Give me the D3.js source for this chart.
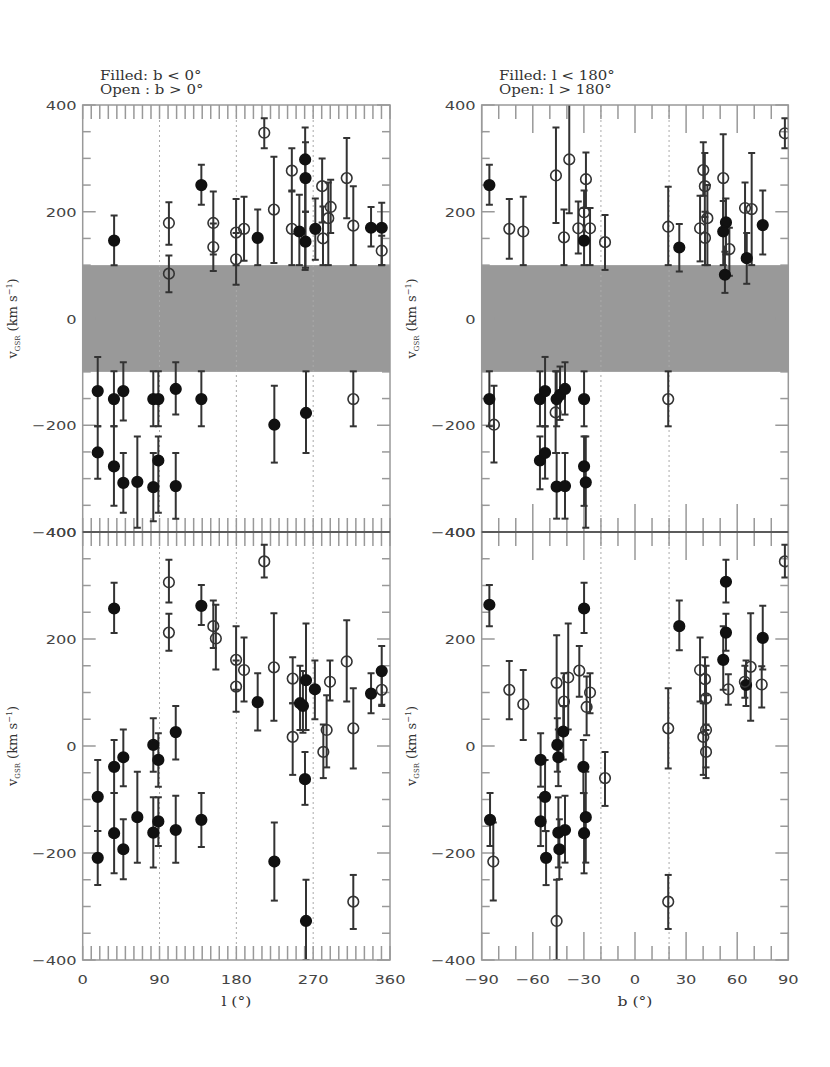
<!DOCTYPE html>
<html>
<head>
<meta charset="utf-8">
<script src="https://cdn.jsdelivr.net/npm/d3@7"></script>
<style>
  body { margin: 0; background: #fff; }
  svg { display: block; }
</style>
</head>
<body>
<svg id="chart" width="830" height="1067"></svg>
<script>
"use strict";
// rows: [position, v, errLow, errHigh, filled]
const topLeft = [
  [36.8,146,100,193,1],[101,179,138,218,0],[101,84,49,118,0],[139,250,213,288,1],
  [153,179,120,238,0],[153,134,89,178,0],[179.7,161,100,224,0],[179.7,111,63,160,0],
  [189,168,108,228,0],[205,151,100,204,1],[212.7,348,319,375,0],[224,204,104,303,0],
  [245,277,238,319,0],[245,168,100,240,0],[253.8,163,100,232,1],[260.6,298,91,358,1],
  [261,263,200,330,1],[261,144,95,200,1],[272.5,168,110,225,1],[280.5,248,180,300,0],
  [281.5,150,100,210,0],[287.7,188,100,255,0],[290.5,209,160,260,0],[309.3,263,188,338,0],
  [317,174,100,248,0],[337.8,170,135,209,1],[350.3,170,100,217,1],[350.3,127,100,155,0],
  [17.6,-136,-202,-72,1],[17.6,-251,-300,-202,1],[36.6,-151,-202,-99,1],[36.6,-277,-351,-202,1],
  [47.6,-136,-191,-82,1],[47.6,-308,-364,-252,1],[64,-306,-392,-221,1],[82.7,-151,-202,-99,1],
  [88.6,-151,-202,-99,1],[82.7,-316,-380,-252,1],[88.6,-266,-364,-221,1],[109,-132,-180,-82,1],
  [109,-314,-375,-252,1],[139,-151,-202,-99,1],[224.5,-199,-270,-126,1],[261.6,-177,-252,-99,1],
  [317,-151,-202,-99,0]
];
const bottomLeft = [
  [36.8,257,211,305,1],[101,306,268,348,0],[101,212,178,247,0],[139,262,226,301,1],
  [153,224,183,272,0],[156,201,143,264,0],[179.7,161,105,224,0],[179.7,111,64,160,0],
  [189,142,83,203,0],[205,82,29,136,1],[212.7,345,315,376,0],[224,147,47,248,0],
  [246,126,80,166,0],[246,17,-54,80,0],[254.6,80,30,150,1],[258,75,25,140,1],
  [261.6,123,30,229,1],[272,106,50,160,1],[289.7,120,85,160,0],[285.8,30,-40,95,0],
  [281.9,-11,-60,40,0],[260.4,-62,-110,-11,1],[309.3,158,83,235,0],[317,33,-42,108,0],
  [337.8,98,61,136,1],[350.3,140,77,187,1],[350.3,105,75,135,0],
  [36.8,-39,-88,11,1],[36.8,-163,-238,-88,1],[17.6,-95,-159,-26,1],[17.6,-209,-260,-159,1],
  [47.6,-193,-249,-137,1],[47.6,-21,-75,31,1],[64,-133,-218,-48,1],[82.7,-162,-227,-96,1],
  [88.6,-141,-187,-96,1],[82.7,2,-48,52,1],[88.6,-26,-76,24,1],[109,26,-25,75,1],
  [109,-157,-218,-93,1],[139,-138,-189,-88,1],[224.5,-216,-289,-143,1],[261.6,-327,-400,-250,1],
  [317,-291,-342,-241,0]
];
const topRight = [
  [-85.5,250,213,288,1],[-73.8,168,112,224,0],[-65.6,163,100,228,0],[-46.4,268,179,358,0],
  [-38.6,298,197,420,0],[-41.7,152,100,204,0],[-28.8,261,207,311,0],[-33.3,169,122,219,0],
  [-29.9,146,100,207,1],[-29.9,199,150,240,0],[-26.4,169,100,207,0],[-17.6,143,91,194,0],
  [19.5,172,100,247,0],[26,133,88,177,1],[40.1,278,230,330,0],[41,248,190,310,0],
  [42.5,188,100,250,0],[38.2,169,107,230,0],[41.1,151,100,200,0],[51.8,263,160,345,0],
  [53.4,180,120,225,1],[51.8,163,100,220,1],[55.4,130,80,170,0],[52.8,82,48,125,1],
  [64.6,207,110,255,0],[68.5,205,100,310,0],[65.6,113,65,160,1],[75,175,120,240,1],
  [88,347,319,375,0],
  [-85.5,-151,-202,-99,1],[-82.8,-199,-270,-126,0],[-55.8,-151,-202,-99,1],[-52.8,-136,-202,-72,1],
  [-55.8,-266,-320,-221,1],[-52.8,-252,-300,-202,1],[-46,-151,-202,-99,1],[-46.6,-176,-252,-99,0],
  [-44,-143,-190,-90,1],[-41.1,-132,-180,-82,1],[-46,-315,-375,-252,1],[-41.1,-314,-375,-252,1],
  [-29.9,-151,-202,-99,1],[-29.9,-277,-351,-221,1],[-28.9,-307,-392,-221,1],[19.5,-151,-202,-99,0]
];
const bottomRight = [
  [-85.5,264,224,301,1],[-73.8,105,50,159,0],[-65.6,78,11,142,0],[-46,118,10,207,0],
  [-39.2,128,31,229,0],[-41.7,83,20,136,0],[-32.7,141,92,187,0],[-29.9,257,211,305,1],
  [-28.4,73,20,130,0],[-26.4,100,61,136,0],[-45.6,2,-48,52,1],[-42.1,27,-25,75,1],
  [-45,-21,-75,31,1],[-55.4,-26,-76,24,1],[-30.3,-39,-88,11,1],[-17.6,-60,-112,-11,0],
  [19.5,33,-42,108,0],[26,224,179,272,1],[38.2,142,83,203,0],[41.1,125,80,166,0],
  [41.7,89,30,150,0],[41.7,30,-40,95,0],[40.1,17,-54,80,0],[41.7,-11,-60,40,0],
  [53.4,307,268,348,1],[53.4,212,178,247,1],[51.8,161,105,224,1],[54.8,106,77,134,0],
  [65.2,114,75,160,1],[64.5,120,90,150,0],[67.9,148,47,248,0],[75,202,143,262,1],
  [74.4,115,72,149,0],[88,345,315,376,0],
  [-85.1,-138,-187,-88,1],[-83.2,-216,-289,-143,0],[-55.4,-141,-187,-96,1],[-52.8,-95,-159,-26,1],
  [-52.2,-209,-260,-159,1],[-45,-162,-227,-96,1],[-44.4,-193,-249,-137,1],[-41.1,-157,-218,-93,1],
  [-46,-327,-400,-250,0],[-29.9,-163,-238,-88,1],[-28.9,-133,-218,-48,1],[19.5,-291,-342,-241,0]
];
const lTicks = [0, 90, 180, 270, 360];
const bTicks = [-90, -60, -30, 0, 30, 60, 90];
const vTicks = [-400, -200, 0, 200, 400];
const lGuides = [90, 180, 270];
const bGuides = [-20, 20];
const bandRange = [-100, 100];
const titlesLeft = ["Filled: b < 0°", "Open : b > 0°"];
const titlesRight = ["Filled: l < 180°", "Open: l > 180°"];

const svg = d3.select('#chart');
const FONT = 'DejaVu Sans, sans-serif';
const SERIF = 'DejaVu Serif, serif';

const xL = d3.scaleLinear().domain([0, 360]).range([82.7, 390]);
const xR = d3.scaleLinear().domain([-90, 90]).range([481.7, 788.3]);
const yT = d3.scaleLinear().domain([-400, 400]).range([532, 105]);
const yB = d3.scaleLinear().domain([-400, 400]).range([960, 532]);

// stretched text, like the wide plotter font of the original
function label(x, y, str, anchor, size, color, stretch, family) {
  const g = svg.append('g').attr('transform', `translate(${x},${y}) scale(${stretch || 1.3},1)`);
  return g.append('text')
    .attr('text-anchor', anchor)
    .attr('font-family', family || FONT)
    .attr('font-size', size)
    .attr('fill', color)
    .text(str);
}

function panel(id, x, y, data, xStep, xMajor, guides, band, showX, xLabels) {
  const [x0, x1] = x.range();
  const [y0, y1] = y.range(); // y0 bottom, y1 top
  const g = svg.append('g');
  svg.append('clipPath').attr('id', id)
    .append('rect').attr('x', x0).attr('y', y1).attr('width', x1 - x0).attr('height', y0 - y1);

  if (band) {
    g.append('rect')
      .attr('x', x0).attr('width', x1 - x0)
      .attr('y', y(bandRange[1])).attr('height', y(bandRange[0]) - y(bandRange[1]))
      .attr('fill', '#999');
  }
  g.selectAll('line.guide').data(guides).enter().append('line')
    .attr('x1', d => x(d)).attr('x2', d => x(d))
    .attr('y1', y1).attr('y2', y0)
    .attr('stroke', '#aaa').attr('stroke-width', 1).attr('stroke-dasharray', '2,3');

  // x ticks top & bottom
  const xt = d3.range(x.domain()[0], x.domain()[1] + 0.01, xStep);
  const tlen = d => (xMajor && d % xMajor === 0 ? 28 : 14);
  g.selectAll('line.xtb').data(xt).enter().append('line')
    .attr('x1', d => x(d)).attr('x2', d => x(d))
    .attr('y1', y0).attr('y2', d => y0 - tlen(d))
    .attr('stroke', '#999').attr('stroke-width', 1.5);
  g.selectAll('line.xtt').data(xt).enter().append('line')
    .attr('x1', d => x(d)).attr('x2', d => x(d))
    .attr('y1', y1).attr('y2', d => y1 + tlen(d))
    .attr('stroke', '#999').attr('stroke-width', 1.5);

  // y ticks left & right
  const yt = d3.range(-400, 401, 50);
  const ylen = d => (d % 200 === 0 ? 13 : 8);
  g.selectAll('line.ytl').data(yt).enter().append('line')
    .attr('x1', x0).attr('x2', d => x0 + ylen(d))
    .attr('y1', d => y(d)).attr('y2', d => y(d))
    .attr('stroke', '#999').attr('stroke-width', 1.5);
  g.selectAll('line.ytr').data(yt).enter().append('line')
    .attr('x1', x1).attr('x2', d => x1 - ylen(d))
    .attr('y1', d => y(d)).attr('y2', d => y(d))
    .attr('stroke', '#999').attr('stroke-width', 1.5);

  // error bars and points
  const pts = g.append('g').attr('clip-path', `url(#${id})`);
  const bars = pts.selectAll('g.bar').data(data).enter().append('g');
  bars.append('line')
    .attr('x1', d => x(d[0])).attr('x2', d => x(d[0]))
    .attr('y1', d => y(d[2])).attr('y2', d => y(d[3]))
    .attr('stroke', '#333').attr('stroke-width', 2);
  [2, 3].forEach(k => {
    bars.append('line')
      .attr('x1', d => x(d[0]) - 3.5).attr('x2', d => x(d[0]) + 3.5)
      .attr('y1', d => y(d[k])).attr('y2', d => y(d[k]))
      .attr('stroke', '#333').attr('stroke-width', 2);
  });
  pts.selectAll('circle').data(data).enter().append('circle')
    .attr('cx', d => x(d[0])).attr('cy', d => y(d[1]))
    .attr('r', 5.3)
    .attr('fill', d => (d[4] ? '#111' : 'none'))
    .attr('stroke', d => (d[4] ? '#111' : '#333'))
    .attr('stroke-width', 1.6);

  // frame
  g.append('rect').attr('x', x0).attr('y', y1).attr('width', x1 - x0).attr('height', y0 - y1)
    .attr('fill', 'none').attr('stroke', '#999').attr('stroke-width', 1.5);

  // y tick labels (the -400 / 400 pair overlaps at the shared edge, as in the original)
  vTicks.forEach(v => {
    label(x0 - 6, y(v) + 5, v < 0 ? '\u2212' + Math.abs(v) : String(v), 'end', 13, '#444', 1.25);
  });

  // y axis title
  const cy = (y0 + y1) / 2;
  const t = svg.append('text')
    .attr('transform', `translate(${x0 - 66},${cy}) rotate(-90)`)
    .attr('text-anchor', 'middle')
    .attr('font-family', SERIF).attr('font-size', 13).attr('fill', '#333');
  t.append('tspan').text('v');
  t.append('tspan').attr('font-size', 7).attr('dy', 3).text('GSR');
  t.append('tspan').attr('dy', -3).text(' (km s');
  t.append('tspan').attr('font-size', 8).attr('dy', -5).text('\u22121');
  t.append('tspan').attr('dy', 5).text(')');

  if (showX) {
    xLabels.forEach(v => {
      label(x(v), y0 + 24, v < 0 ? '\u2212' + Math.abs(v) : String(v), 'middle', 13, '#444', 1.25);
    });
  }
}

panel('cTL', xL, yT, topLeft, 10, 0, lGuides, true, false, lTicks);
panel('cBL', xL, yB, bottomLeft, 10, 0, lGuides, false, true, lTicks);
panel('cTR', xR, yT, topRight, 10, 30, bGuides, true, false, bTicks);
panel('cBR', xR, yB, bottomRight, 10, 30, bGuides, false, true, bTicks);

// divider between stacked panels
[xL, xR].forEach(x => {
  svg.append('line')
    .attr('x1', x.range()[0]).attr('x2', x.range()[1])
    .attr('y1', yT.range()[0]).attr('y2', yT.range()[0])
    .attr('stroke', '#444').attr('stroke-width', 1.5);
});

// titles
titlesLeft.forEach((s, i) => label(100, 80 + i * 14, s, 'start', 13, '#333', 1.15, SERIF));
titlesRight.forEach((s, i) => label(499, 80 + i * 14, s, 'start', 13, '#333', 1.15, SERIF));

// x axis titles
label(xL(180), 1006, 'l (°)', 'middle', 13, '#333', 1.2, SERIF);
label(xR(0), 1006, 'b (°)', 'middle', 13, '#333', 1.2, SERIF);
</script>
</body>
</html>
